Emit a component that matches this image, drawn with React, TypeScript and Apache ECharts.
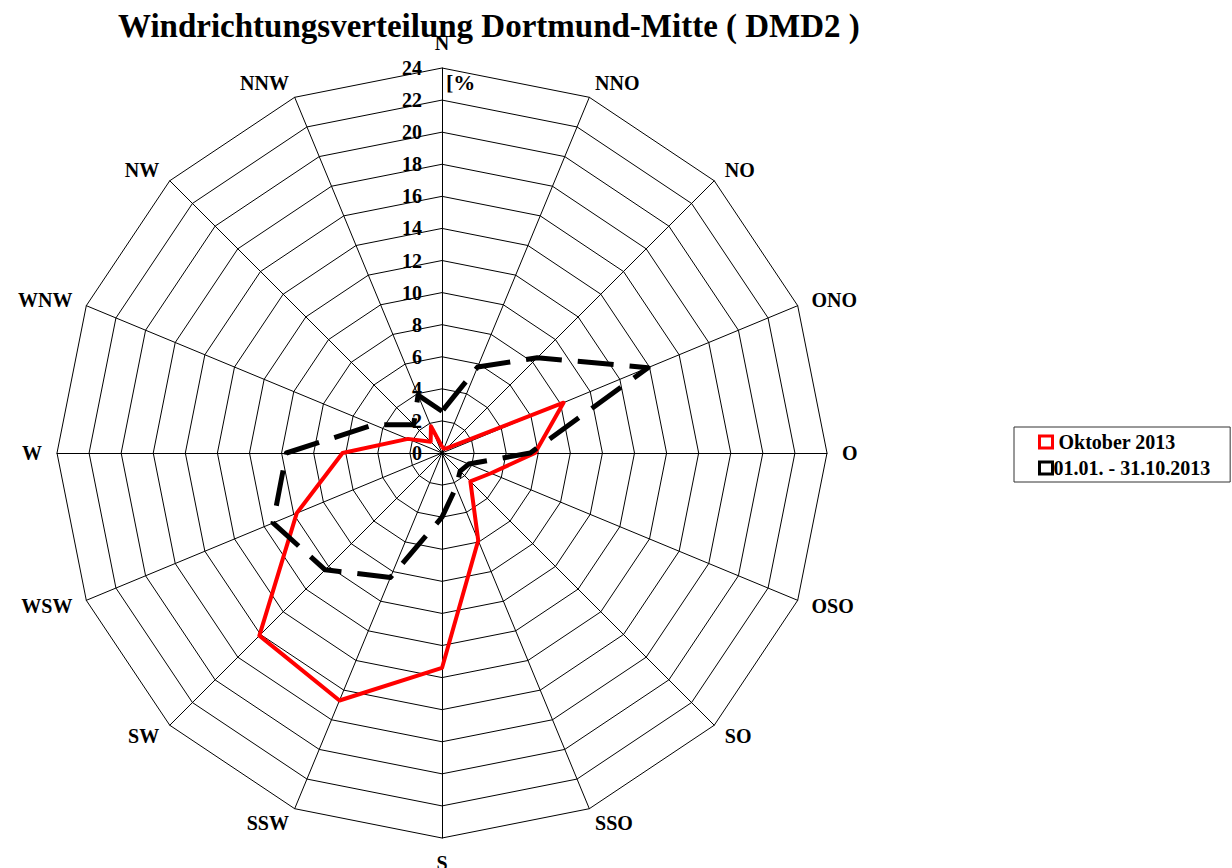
import React, { useEffect, useRef } from "react";
import * as echarts from "echarts";

const directions = ["N", "NNO", "NO", "ONO", "O", "OSO", "SO", "SSO", "S", "SSW", "SW", "WSW", "W", "WNW", "NW", "NNW"];
const oktober2013 = [0.4, 0.3, 0.4, 8.2, 5.8, 3.3, 2.5, 5.9, 13.4, 16.7, 16.1, 9.8, 6.2, 2.3, 1.0, 1.8];
const jahr2013 = [2.6, 5.8, 8.4, 13.9, 5.5, 1.8, 1.6, 2.3, 4.0, 8.4, 10.3, 11.4, 9.7, 4.6, 2.5, 3.9];
const seriesNames = ["Oktober 2013", "01.01. - 31.10.2013"];
const axisMin = 0;
const axisMax = 24;
const axisStep = 2;
const titleText = "Windrichtungsverteilung Dortmund-Mitte ( DMD2 )";
const unitText = "[%";

const FONT = "'Liberation Serif', 'Times New Roman', serif";

export default function App() {
  const ref = useRef<HTMLDivElement>(null);
  useEffect(() => {
    if (!ref.current) return;
    const chart = echarts.init(ref.current, null, { renderer: "svg" });
    // ECharts radar lays indicators out counter-clockwise; reorder to clockwise compass order
    const order = directions.map((_, i) => (directions.length - i) % directions.length);
    const center = [442, 453];
    const radius = 385;
    chart.setOption({
      animation: false,
      backgroundColor: "#fff",
      title: {
        text: titleText,
        left: 113,
        top: 4,
        textStyle: { fontFamily: FONT, fontSize: 33, fontWeight: "bold", color: "#000" },
      },
      legend: {
        orient: "vertical",
        left: 1014,
        top: 427,
        padding: [5, 20, 4, 24],
        itemGap: 6,
        itemWidth: 13,
        itemHeight: 12,
        borderColor: "#333",
        borderWidth: 1,
        formatter: (n: string) => (n === seriesNames[0] ? " " + n : n),
        textStyle: { fontFamily: FONT, fontSize: 20, fontWeight: "bold", color: "#000", padding: [0, 0, 0, -4] },
        data: [
          { name: seriesNames[0], icon: "rect", itemStyle: { color: "#fff", borderColor: "#ff0000", borderWidth: 3 } },
          { name: seriesNames[1], icon: "rect", itemStyle: { color: "#fff", borderColor: "#000", borderWidth: 3 } },
        ],
      },
      radar: {
        center,
        radius,
        startAngle: 90,
        shape: "polygon",
        splitNumber: (axisMax - axisMin) / axisStep,
        nameGap: 15,
        indicator: order.map((i) => ({ name: directions[i], min: axisMin, max: axisMax })),
        axisName: { fontFamily: FONT, fontSize: 20, fontWeight: "bold", color: "#000" },
        splitLine: { lineStyle: { color: "#000", width: 1 } },
        splitArea: { show: false },
        axisLine: { lineStyle: { color: "#000", width: 1 } },
        axisTick: { show: false },
        axisLabel: { show: false },
      },
      polar: { center, radius },
      angleAxis: { show: false, startAngle: 90, min: 0, max: 360 },
      radiusAxis: {
        min: axisMin,
        max: axisMax,
        interval: axisStep,
        axisLine: { show: false },
        axisTick: { show: false },
        splitLine: { show: false },
        axisLabel: { fontFamily: FONT, fontSize: 20, fontWeight: "bold", color: "#000", margin: 20 },
        z: 10,
      },
      graphic: [
        {
          type: "text",
          left: 446,
          top: 71,
          style: { text: unitText, font: `bold 22px ${FONT}`, fill: "#000" },
        },
      ],
      series: [
        {
          type: "radar",
          symbol: "none",
          data: [
            {
              name: seriesNames[0],
              value: order.map((i) => oktober2013[i]),
              lineStyle: { color: "#ff0000", width: 4, type: "solid" },
              itemStyle: { color: "#ff0000" },
            },
            {
              name: seriesNames[1],
              value: order.map((i) => jahr2013[i]),
              lineStyle: { color: "#000", width: 5, type: [36, 16] },
              itemStyle: { color: "#000" },
            },
          ],
        },
      ],
    });
    return () => chart.dispose();
  }, []);
  return <div ref={ref} style={{ position: "fixed", left: 0, top: 0, width: 1232, height: 868 }} />;
}
